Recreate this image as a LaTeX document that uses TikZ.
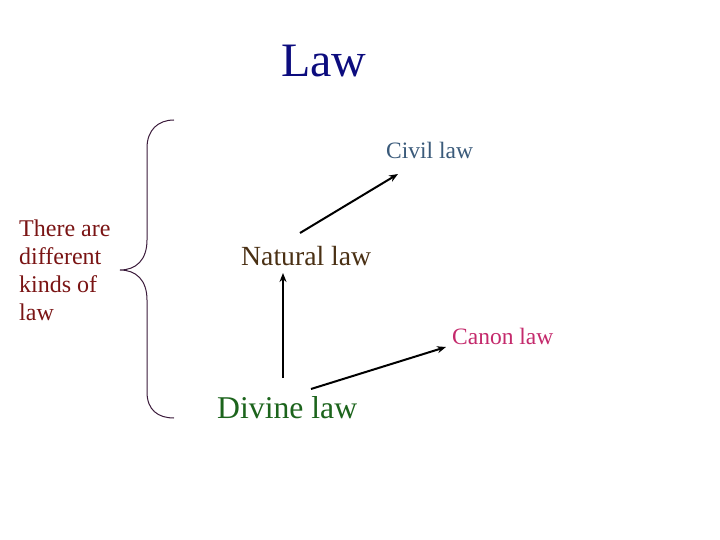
\documentclass[tikz,border=0pt]{standalone}
\usepackage{fontspec}
\setmainfont{Liberation Serif}
\usetikzlibrary{arrows.meta}
\definecolor{lawblue}{HTML}{0C0C7E}
\definecolor{civilc}{HTML}{3A5A7A}
\definecolor{naturalc}{HTML}{4A3014}
\definecolor{canonc}{HTML}{C42A6C}
\definecolor{divinec}{HTML}{1C641C}
\definecolor{kindsc}{HTML}{7A1414}
\definecolor{bracec}{HTML}{3A1A3A}
\tikzset{
  lbl/.style={inner sep=0pt, anchor=base west},
  arr/.style={line width=2pt, -{Stealth[length=9pt,width=7pt]}},
}
\begin{document}
\begin{tikzpicture}[x=1pt,y=-1pt]
\useasboundingbox (0,0) rectangle (720,540);
\node[inner sep=0pt, anchor=base, text=lawblue, font=\fontsize{48}{56}\selectfont] (law) at (324,77) {Law};
\node[lbl, text=civilc, font=\fontsize{23.5}{28}\selectfont] (civil) at (386,159) {Civil law};
\node[lbl, text=naturalc, font=\fontsize{27.7}{32}\selectfont] (natural) at (241,265) {Natural law};
\node[lbl, text=canonc, font=\fontsize{23.5}{28}\selectfont] (canon) at (452,344) {Canon law};
\node[lbl, text=divinec, font=\fontsize{31.7}{36}\selectfont] (divine) at (217,418) {Divine law};
\node[inner sep=0pt, anchor=north west, text=kindsc, align=left, font=\fontsize{24}{28}\selectfont] (kinds) at (19,220) {There are\\different\\kinds of\\law};
% brace
\draw[bracec, line width=1pt] (174,120) .. controls (158,120) and (147,130) .. (147,148)
  -- (147,240) .. controls (147,260) and (136,270) .. (120,270)
  .. controls (136,270) and (147,280) .. (147,300)
  -- (147,392) .. controls (147,410) and (158,418) .. (174,418);
% arrows
\coordinate (n1) at (300,233);
\coordinate (c1) at (398,174);
\coordinate (d1) at (283,378);
\coordinate (n2) at (283,273);
\coordinate (d2) at (311,389);
\coordinate (k2) at (446,347);
\draw[arr] (n1) -- (c1);
\draw[arr] (d1) -- (n2);
\draw[arr] (d2) -- (k2);
\end{tikzpicture}
\end{document}
